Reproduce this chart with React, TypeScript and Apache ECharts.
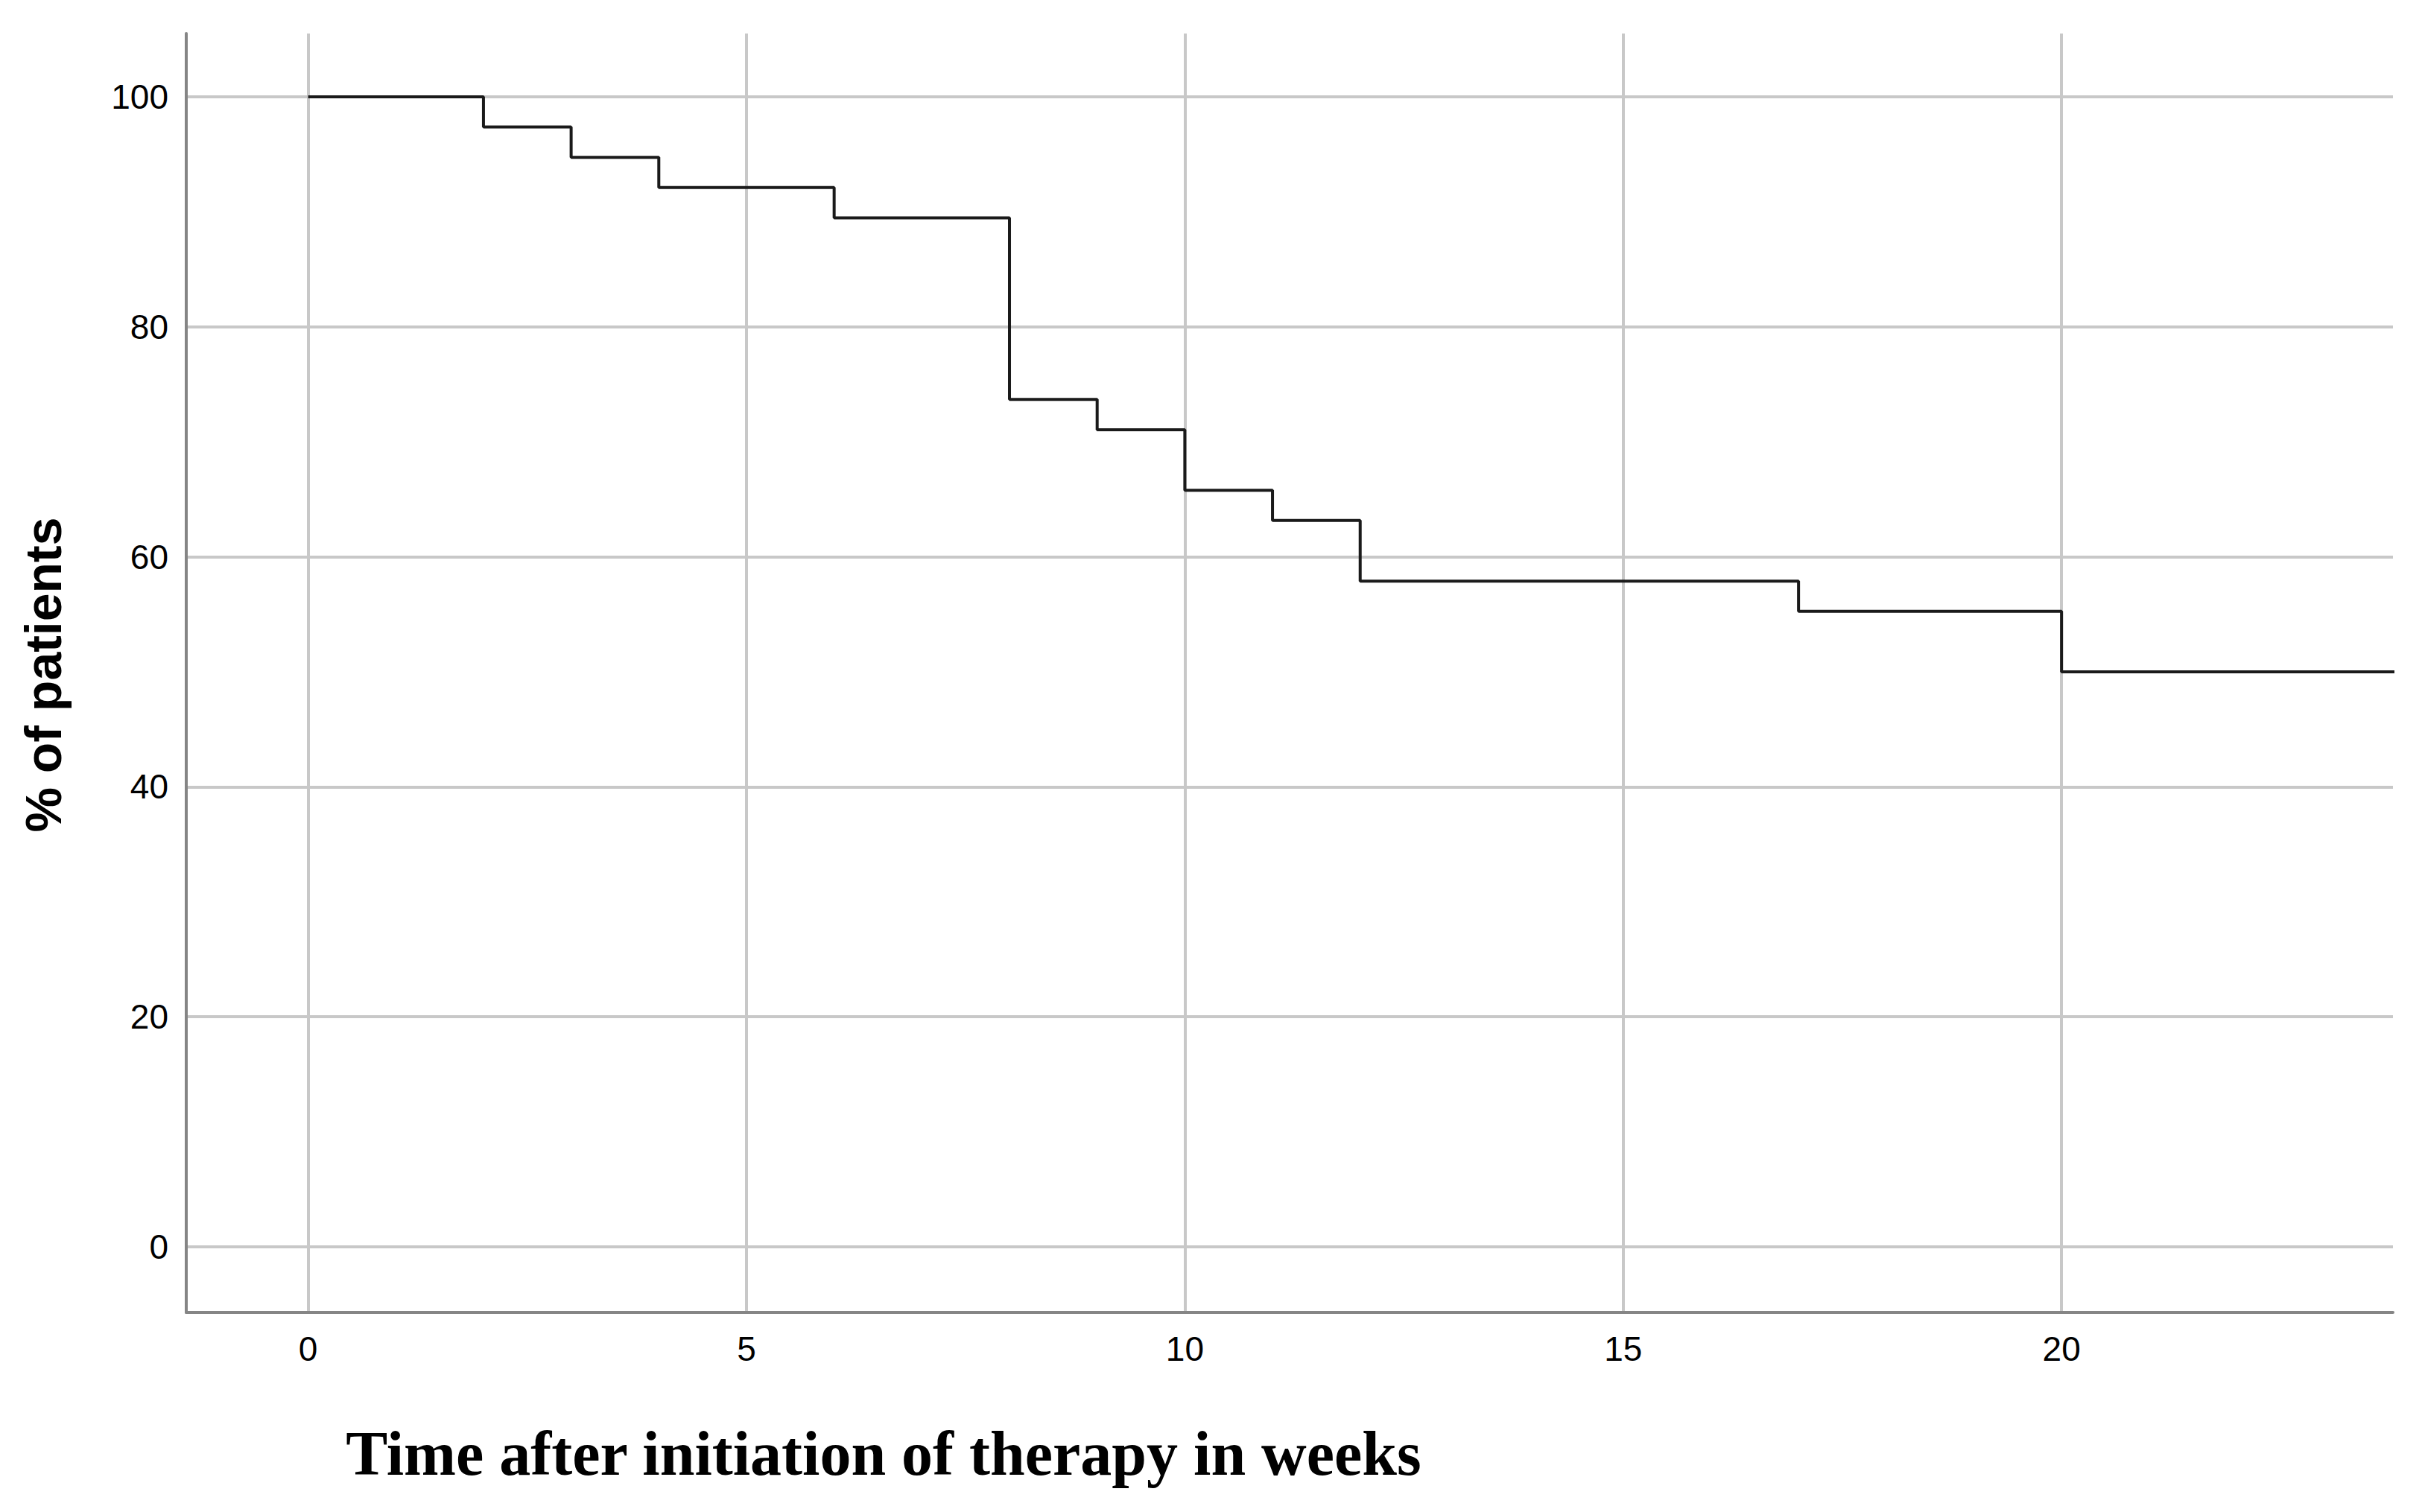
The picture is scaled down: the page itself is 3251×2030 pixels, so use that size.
import React, { useEffect, useRef } from "react";
import * as echarts from "echarts";

// Kaplan–Meier style step curve: time (weeks) and % of patients
const weeks = [0, 2, 3, 4, 6, 8, 9, 10, 11, 12, 17, 20, 24];
const percentPatients = [100, 97.37, 94.74, 92.11, 89.47, 73.68, 71.05, 65.79, 63.16, 57.89, 55.26, 50, 50];

const xAxisTitle = "Time after initiation of therapy in weeks";
const yAxisTitle = "% of patients";

export default function App() {
  const ref = useRef<HTMLDivElement>(null);

  useEffect(() => {
    if (!ref.current) return;
    const chart = echarts.init(ref.current, null, { renderer: "svg" });
    const data = weeks.map((w, i) => [w, percentPatients[i]]);
    chart.setOption({
      animation: false,
      backgroundColor: "#ffffff",
      grid: { left: 250, right: 39, top: 45, bottom: 268, containLabel: false },
      xAxis: {
        type: "value",
        min: -1.39,
        max: 23.78,
        axisLine: { show: true, onZero: false, lineStyle: { color: "#858585", width: 4 } },
        axisTick: { show: false },
        axisLabel: {
          show: true,
          showMinLabel: false,
          showMaxLabel: false,
          margin: 26,
          color: "#000000",
          fontFamily: "Liberation Sans",
          fontSize: 46,
        },
        splitLine: {
          show: true,
          showMinLine: false,
          showMaxLine: false,
          lineStyle: { color: "#c8c8c8", width: 4 },
        },
      },
      yAxis: {
        type: "value",
        min: -5.7,
        max: 105.5,
        axisLine: { show: true, onZero: false, lineStyle: { color: "#858585", width: 4 } },
        axisTick: { show: false },
        axisLabel: {
          show: true,
          showMinLabel: false,
          showMaxLabel: false,
          margin: 24,
          color: "#000000",
          fontFamily: "Liberation Sans",
          fontSize: 46,
        },
        splitLine: {
          show: true,
          showMinLine: false,
          showMaxLine: false,
          lineStyle: { color: "#c8c8c8", width: 4 },
        },
      },
      series: [
        {
          type: "line",
          step: "end",
          data,
          showSymbol: false,
          clip: true,
          lineStyle: { color: "#1a1a1a", width: 4 },
        },
      ],
      graphic: [
        {
          type: "text",
          x: 1186,
          y: 1951,
          style: {
            text: xAxisTitle,
            font: 'bold 84px "Liberation Serif"',
            fill: "#000000",
            textAlign: "center",
            textVerticalAlign: "middle",
          },
        },
        {
          type: "text",
          x: 58,
          y: 906,
          rotation: Math.PI / 2,
          style: {
            text: yAxisTitle,
            font: 'bold 68px "Liberation Sans"',
            fill: "#000000",
            textAlign: "center",
            textVerticalAlign: "middle",
          },
        },
      ],
    });
    return () => chart.dispose();
  }, []);

  return (
    <div
      ref={ref}
      style={{ position: "fixed", left: 0, top: 0, width: 3251, height: 2030, background: "#fff" }}
    />
  );
}
